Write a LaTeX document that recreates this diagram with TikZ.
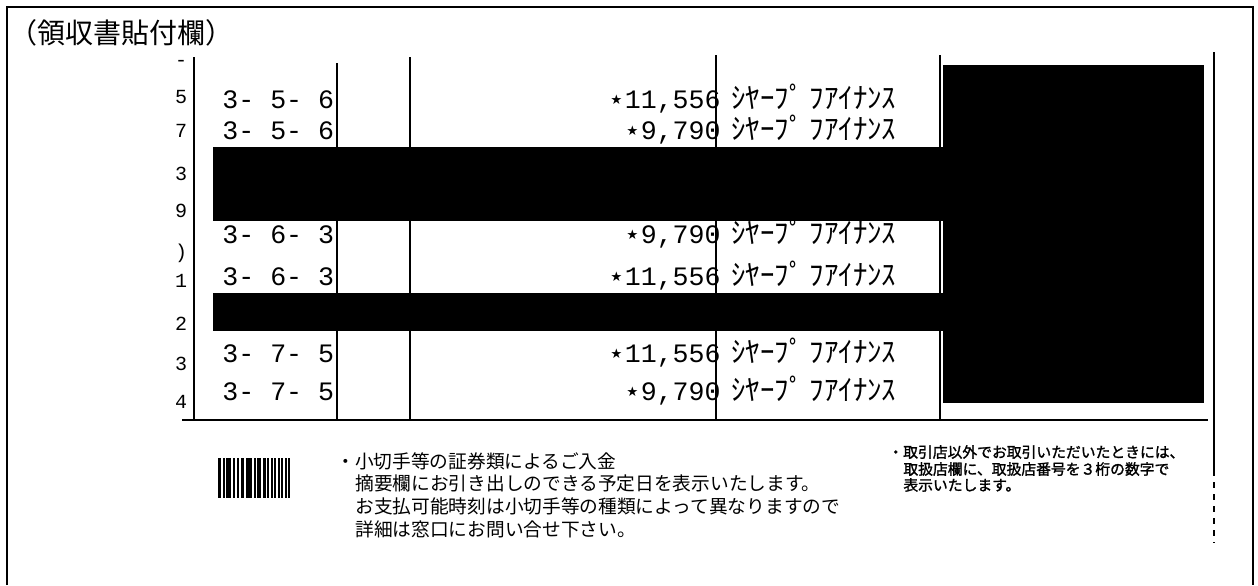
\documentclass[tikz,border=0pt]{standalone}
\usepackage{fontspec}
\newfontfamily\jpfont[AutoFakeBold=1.5]{Noto Sans CJK JP}
\newfontfamily\ocrfont{Liberation Mono}
\newfontfamily\symfont{DejaVu Sans}

\begin{document}
\begin{tikzpicture}[x=0.5pt, y=-0.5pt,
  frame/.style={line width=1pt},
  tabline/.style={line width=1.2pt},
  date/.style={anchor=base west, inner sep=0pt, font=\ocrfont\fontsize{13.3}{14}\selectfont},
  amount/.style={anchor=base east, inner sep=0pt, font=\ocrfont\fontsize{13.3}{14}\selectfont},
  payee/.style={anchor=base west, inner sep=0pt, font=\jpfont\fontsize{14.4}{16}\selectfont},
  rownum/.style={anchor=base, inner sep=0pt, font=\ocrfont\fontsize{10}{11}\selectfont},
  note/.style={anchor=west, inner sep=0pt, font=\jpfont\fontsize{9.35}{11}\selectfont},
  smallnote/.style={anchor=west, inner sep=0pt, font=\jpfont\bfseries\fontsize{7.4}{9}\selectfont}]

\useasboundingbox (0,0) rectangle (1258,585);

\draw[frame] (7,585) -- (7,7) -- (1253,7) -- (1253,585);

\node[anchor=west, inner sep=0pt, font=\jpfont\fontsize{14}{16}\selectfont] (title) at (9,33) {（領収書貼付欄）};

\foreach \cx/\cy in {194/57, 337/63, 410/57, 716/55, 940/55}
  \draw[tabline] (\cx,\cy) -- (\cx,420);
\draw[tabline] (182,420) -- (1208,420);
\draw[tabline] (1214,52) -- (1214,470);
\draw[tabline, dashed] (1214,470) -- (1214,543);

\foreach \ny/\nt [count=\i] in {66/-, 103/5, 137/7, 180/3, 217/9, 258/{)}, 287/1, 330/2, 370/3, 408/4}
  \node[rownum] (r\i) at (181,\ny) {\nt};

\foreach \ry/\dt/\am [count=\i] in {108/{3- 5- 6}/{11,556}, 139/{3- 5- 6}/{9,790}, 243/{3- 6- 3}/{9,790}, 285/{3- 6- 3}/{11,556}, 362/{3- 7- 5}/{11,556}, 400/{3- 7- 5}/{9,790}} {
  \node[date] (d\i) at (222,\ry) {\dt};
  \node[amount] (a\i) at (721,\ry) {{\symfont ⋆}\am};
  \node[payee] (p\i) at (731,\ry) {ｼﾔｰﾌﾟ ﾌｱｲﾅﾝｽ};
}

\fill (213,147) rectangle (945,221);
\fill (213,293) rectangle (945,331);
\fill (943,65) rectangle (1204,403);

\foreach \bx/\bw in {218/3, 223/2, 226/5, 233/2, 237/2, 241/3, 246/6, 254/2, 257/4, 263/3, 267/2, 271/2, 274/2, 278/2, 281/2, 285/2, 288/2}
  \fill (\bx,458) rectangle ++(\bw,40);

\node[note] (n1) at (336,461) {・小切手等の証券類によるご入金};
\node[note] (n2) at (355,483) {摘要欄にお引き出しのできる予定日を表示いたします。};
\node[note] (n3) at (355,506) {お支払可能時刻は小切手等の種類によって異なりますので};
\node[note] (n4) at (355,529) {詳細は窓口にお問い合せ下さい。};

\node[smallnote] (s1) at (888,452) {・取引店以外でお取引いただいたときには、};
\node[smallnote] (s2) at (903,469) {取扱店欄に、取扱店番号を３桁の数字で};
\node[smallnote] (s3) at (903,485) {表示いたします。};

\end{tikzpicture}
\end{document}
